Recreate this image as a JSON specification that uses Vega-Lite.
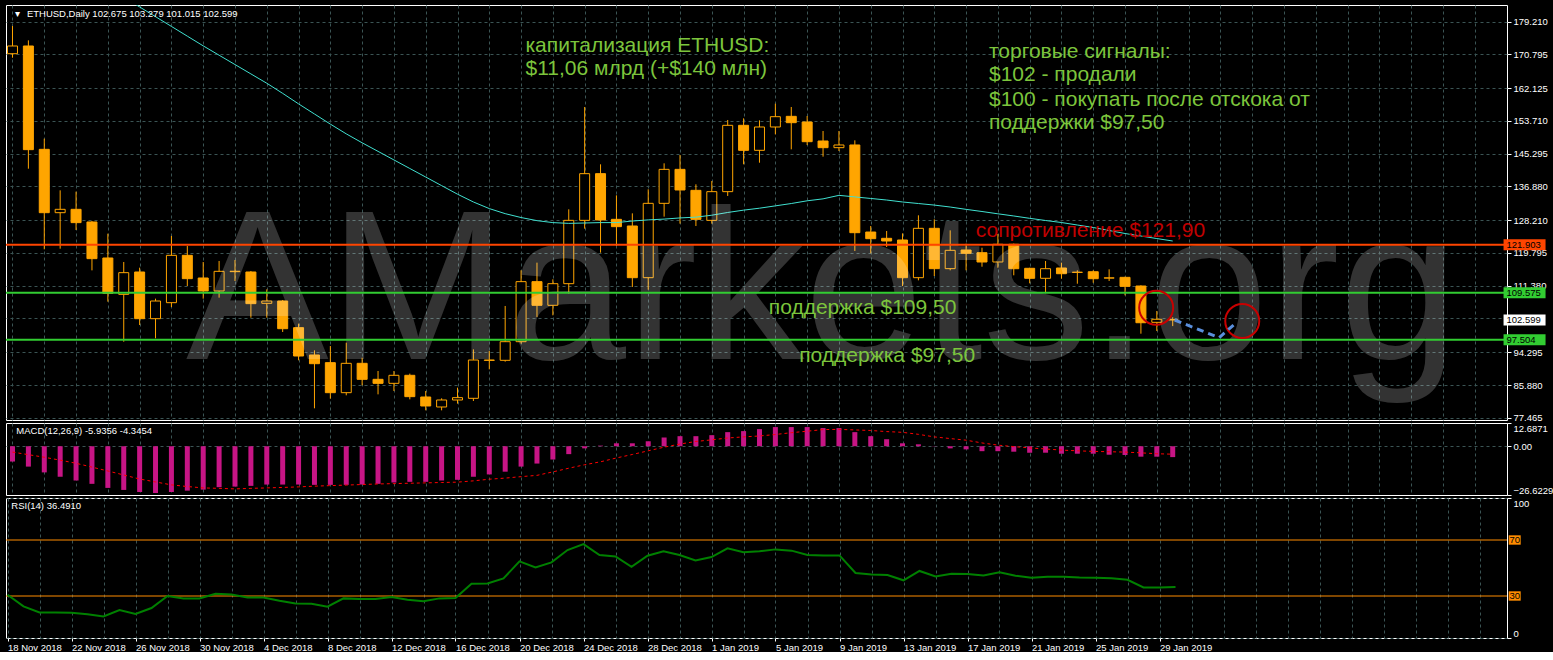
{
  "$schema": "https://vega.github.io/schema/vega-lite/v6.json",
  "background": "#000000",
  "padding": {"left": 4, "top": 4, "right": 0, "bottom": 0},
  "spacing": 3,
  "bounds": "flush",
  "resolve": {"scale": {"x": "independent", "y": "independent", "color": "independent"}},
  "config": {
    "view": {"stroke": "#ffffff", "strokeWidth": 1},
    "axis": {"gridColor": "#3b5454", "gridDash": [3, 3], "gridWidth": 1, "labelColor": "#ffffff", "labelFont": "Liberation Sans", "labelFontSize": 9.5, "tickColor": "#ffffff", "tickSize": 4, "domain": false, "labelFlush": false, "labelOverlap": false},
    "text": {"font": "Liberation Sans"}
  },
  "datasets": {
    "bars": [
      {"d":"2018-11-18","o":170.99,"h":178.1,"l":169.96,"c":172.97,"ma":203.0,"m":-8.35,"s":-3.2,"r":30.9},
      {"d":"2018-11-19","o":172.97,"h":174.42,"l":141.45,"c":146.34,"ma":200.5,"m":-11.12,"s":-4.6,"r":22.6},
      {"d":"2018-11-20","o":146.42,"h":149.16,"l":120.74,"c":130.15,"ma":198.0,"m":-14.28,"s":-6.0,"r":18.3},
      {"d":"2018-11-21","o":130.15,"h":135.89,"l":120.9,"c":131.01,"ma":195.5,"m":-16.66,"s":-7.6,"r":18.3},
      {"d":"2018-11-22","o":131.01,"h":135.55,"l":125.7,"c":127.59,"ma":193.0,"m":-18.71,"s":-9.3,"r":18.1},
      {"d":"2018-11-23","o":127.76,"h":128.01,"l":115.33,"c":118.34,"ma":190.5,"m":-20.53,"s":-11.4,"r":16.9},
      {"d":"2018-11-24","o":118.51,"h":124.76,"l":107.29,"c":109.43,"ma":188.0,"m":-22.75,"s":-13.5,"r":15.4},
      {"d":"2018-11-25","o":109.17,"h":117.48,"l":97.01,"c":114.74,"ma":185.5,"m":-23.86,"s":-15.7,"r":20.0},
      {"d":"2018-11-26","o":114.91,"h":116.02,"l":101.29,"c":102.92,"ma":183.0,"m":-24.97,"s":-17.9,"r":17.1},
      {"d":"2018-11-27","o":102.92,"h":108.06,"l":97.87,"c":107.46,"ma":180.5,"m":-25.52,"s":-19.5,"r":21.4},
      {"d":"2018-11-28","o":107.03,"h":124.16,"l":105.92,"c":119.19,"ma":178.0,"m":-24.97,"s":-21.1,"r":30.0},
      {"d":"2018-11-29","o":119.19,"h":121.59,"l":111.31,"c":113.2,"ma":175.5,"m":-24.25,"s":-22.0,"r":28.3},
      {"d":"2018-11-30","o":113.37,"h":117.48,"l":108.06,"c":110.03,"ma":173.0,"m":-23.69,"s":-22.75,"r":28.3},
      {"d":"2018-12-01","o":110.03,"h":117.74,"l":108.32,"c":115.08,"ma":170.6,"m":-22.36,"s":-23.0,"r":31.6},
      {"d":"2018-12-02","o":115.0,"h":118.0,"l":112.6,"c":115.1,"ma":168.2,"m":-22.03,"s":-23.3,"r":31.1},
      {"d":"2018-12-03","o":114.91,"h":115.17,"l":103.18,"c":106.78,"ma":165.8,"m":-21.64,"s":-23.0,"r":29.0},
      {"d":"2018-12-04","o":106.86,"h":110.46,"l":103.18,"c":107.46,"ma":163.4,"m":-20.92,"s":-22.75,"r":29.0},
      {"d":"2018-12-05","o":107.46,"h":107.72,"l":99.5,"c":100.35,"ma":160.8,"m":-20.92,"s":-22.5,"r":26.6},
      {"d":"2018-12-06","o":100.61,"h":101.64,"l":92.22,"c":93.33,"ma":158.1,"m":-20.92,"s":-22.2,"r":24.7},
      {"d":"2018-12-07","o":93.59,"h":94.79,"l":79.89,"c":91.36,"ma":155.5,"m":-21.09,"s":-21.8,"r":24.5},
      {"d":"2018-12-08","o":91.62,"h":95.9,"l":82.37,"c":83.91,"ma":152.9,"m":-21.09,"s":-21.5,"r":22.4},
      {"d":"2018-12-09","o":83.91,"h":96.75,"l":83.23,"c":91.45,"ma":150.4,"m":-21.09,"s":-21.2,"r":28.3},
      {"d":"2018-12-10","o":91.45,"h":92.9,"l":85.8,"c":87.34,"ma":148.1,"m":-20.92,"s":-20.9,"r":27.9},
      {"d":"2018-12-11","o":87.34,"h":89.48,"l":83.48,"c":86.31,"ma":145.9,"m":-20.53,"s":-20.6,"r":27.9},
      {"d":"2018-12-12","o":86.31,"h":89.48,"l":84.34,"c":88.37,"ma":143.7,"m":-19.81,"s":-20.4,"r":29.3},
      {"d":"2018-12-13","o":88.37,"h":88.8,"l":82.2,"c":82.89,"ma":141.5,"m":-19.43,"s":-20.2,"r":27.4},
      {"d":"2018-12-14","o":82.8,"h":84.34,"l":79.37,"c":80.49,"ma":139.3,"m":-19.43,"s":-20.0,"r":26.2},
      {"d":"2018-12-15","o":80.23,"h":82.46,"l":79.37,"c":82.03,"ma":137.1,"m":-18.71,"s":-19.8,"r":28.3},
      {"d":"2018-12-16","o":82.03,"h":85.2,"l":81.09,"c":82.63,"ma":134.9,"m":-18.32,"s":-19.6,"r":28.6},
      {"d":"2018-12-17","o":82.46,"h":95.04,"l":81.77,"c":92.3,"ma":132.9,"m":-16.66,"s":-18.9,"r":38.8},
      {"d":"2018-12-18","o":92.2,"h":94.62,"l":89.9,"c":92.3,"ma":131.2,"m":-15.39,"s":-18.0,"r":39.0},
      {"d":"2018-12-19","o":92.22,"h":106.18,"l":91.88,"c":97.01,"ma":129.9,"m":-13.89,"s":-17.4,"r":42.6},
      {"d":"2018-12-20","o":97.01,"h":115.34,"l":96.5,"c":112.43,"ma":128.9,"m":-11.12,"s":-16.6,"r":54.7},
      {"d":"2018-12-21","o":112.43,"h":117.31,"l":103.35,"c":106.35,"ma":128.1,"m":-9.46,"s":-15.9,"r":50.4},
      {"d":"2018-12-22","o":106.35,"h":113.03,"l":103.78,"c":111.91,"ma":127.6,"m":-7.25,"s":-14.0,"r":54.0},
      {"d":"2018-12-23","o":111.91,"h":131.01,"l":109.35,"c":128.18,"ma":127.4,"m":-4.31,"s":-12.0,"r":62.8},
      {"d":"2018-12-24","o":128.18,"h":157.3,"l":126.04,"c":140.17,"ma":127.5,"m":-1.16,"s":-10.1,"r":67.1},
      {"d":"2018-12-25","o":140.17,"h":142.57,"l":119.88,"c":128.27,"ma":127.6,"m":0.34,"s":-8.5,"r":59.3},
      {"d":"2018-12-26","o":128.44,"h":134.6,"l":121.59,"c":126.56,"ma":127.6,"m":1.61,"s":-6.4,"r":58.3},
      {"d":"2018-12-27","o":126.73,"h":129.98,"l":111.06,"c":113.45,"ma":128.0,"m":1.61,"s":-4.5,"r":50.9},
      {"d":"2018-12-28","o":113.45,"h":136.15,"l":110.37,"c":132.55,"ma":128.3,"m":2.72,"s":-2.5,"r":58.8},
      {"d":"2018-12-29","o":132.55,"h":142.83,"l":129.13,"c":141.28,"ma":128.5,"m":4.77,"s":-0.5,"r":61.9},
      {"d":"2018-12-30","o":141.28,"h":144.97,"l":127.33,"c":135.98,"ma":128.8,"m":5.49,"s":1.2,"r":59.3},
      {"d":"2018-12-31","o":135.89,"h":137.43,"l":126.73,"c":128.44,"ma":129.0,"m":5.49,"s":2.6,"r":55.4},
      {"d":"2019-01-01","o":128.18,"h":138.29,"l":127.33,"c":135.55,"ma":129.5,"m":6.04,"s":3.5,"r":57.8},
      {"d":"2019-01-02","o":135.55,"h":153.96,"l":134.44,"c":152.59,"ma":130.2,"m":7.7,"s":4.5,"r":64.0},
      {"d":"2019-01-03","o":152.59,"h":154.39,"l":142.57,"c":146.17,"ma":130.8,"m":8.26,"s":5.1,"r":61.2},
      {"d":"2019-01-04","o":146.17,"h":153.87,"l":142.99,"c":152.16,"ma":131.3,"m":9.36,"s":5.6,"r":61.9},
      {"d":"2019-01-05","o":152.16,"h":158.15,"l":150.28,"c":154.81,"ma":131.9,"m":10.47,"s":6.4,"r":63.3},
      {"d":"2019-01-06","o":154.9,"h":157.3,"l":146.42,"c":153.27,"ma":132.5,"m":10.47,"s":7.4,"r":62.4},
      {"d":"2019-01-07","o":153.44,"h":154.99,"l":147.54,"c":148.39,"ma":133.2,"m":10.47,"s":8.2,"r":59.3},
      {"d":"2019-01-08","o":148.56,"h":151.13,"l":144.54,"c":146.85,"ma":133.7,"m":9.92,"s":9.1,"r":59.0},
      {"d":"2019-01-09","o":146.85,"h":151.13,"l":145.99,"c":147.54,"ma":134.6,"m":9.92,"s":9.2,"r":59.0},
      {"d":"2019-01-10","o":147.54,"h":148.73,"l":120.31,"c":125.01,"ma":134.2,"m":7.7,"s":8.9,"r":46.4},
      {"d":"2019-01-11","o":125.18,"h":126.73,"l":119.71,"c":123.47,"ma":133.8,"m":5.49,"s":8.6,"r":45.4},
      {"d":"2019-01-12","o":123.56,"h":125.44,"l":121.33,"c":122.87,"ma":133.4,"m":3.83,"s":8.0,"r":45.0},
      {"d":"2019-01-13","o":123.13,"h":124.84,"l":111.31,"c":113.45,"ma":132.9,"m":1.61,"s":7.6,"r":41.2},
      {"d":"2019-01-14","o":113.45,"h":129.47,"l":112.77,"c":126.13,"ma":132.5,"m":1.06,"s":6.5,"r":47.9},
      {"d":"2019-01-15","o":126.13,"h":128.44,"l":113.88,"c":115.77,"ma":132.1,"m":0.12,"s":5.1,"r":44.0},
      {"d":"2019-01-16","o":115.77,"h":125.61,"l":115.34,"c":120.48,"ma":131.6,"m":-1.16,"s":4.2,"r":45.9},
      {"d":"2019-01-17","o":120.56,"h":122.19,"l":115.34,"c":119.71,"ma":131.0,"m":-1.71,"s":3.3,"r":45.7},
      {"d":"2019-01-18","o":119.87,"h":121.15,"l":116.27,"c":117.48,"ma":130.45,"m":-2.7,"s":1.8,"r":44.7},
      {"d":"2019-01-19","o":117.48,"h":124.67,"l":116.01,"c":122.03,"ma":129.86,"m":-2.7,"s":0.6,"r":47.0},
      {"d":"2019-01-20","o":122.03,"h":122.2,"l":114.06,"c":115.76,"ma":129.3,"m":-2.98,"s":-0.2,"r":44.5},
      {"d":"2019-01-21","o":115.86,"h":116.0,"l":112.0,"c":113.29,"ma":128.7,"m":-3.53,"s":-0.9,"r":43.1},
      {"d":"2019-01-22","o":113.29,"h":117.73,"l":109.44,"c":115.76,"ma":128.14,"m":-3.53,"s":-1.5,"r":43.8},
      {"d":"2019-01-23","o":115.94,"h":117.3,"l":113.19,"c":114.47,"ma":127.62,"m":-4.08,"s":-2.1,"r":43.8},
      {"d":"2019-01-24","o":114.8,"h":115.34,"l":111.9,"c":114.86,"ma":126.98,"m":-4.08,"s":-2.5,"r":43.3},
      {"d":"2019-01-25","o":114.98,"h":115.34,"l":112.16,"c":113.19,"ma":126.34,"m":-4.08,"s":-2.8,"r":43.1},
      {"d":"2019-01-26","o":113.35,"h":115.6,"l":112.6,"c":113.4,"ma":125.57,"m":-4.63,"s":-3.0,"r":42.6},
      {"d":"2019-01-27","o":113.54,"h":113.7,"l":108.92,"c":111.23,"ma":124.8,"m":-4.8,"s":-3.2,"r":41.6},
      {"d":"2019-01-28","o":111.31,"h":111.5,"l":99.06,"c":101.88,"ma":124.15,"m":-5.7,"s":-3.6,"r":36.1},
      {"d":"2019-01-29","o":101.98,"h":104.89,"l":99.75,"c":102.76,"ma":123.5,"m":-5.7,"s":-4.1,"r":36.1},
      {"d":"2019-01-30","o":102.675,"h":103.279,"l":101.015,"c":102.599,"ma":122.87,"m":-5.9356,"s":-4.3454,"r":36.491}
    ],
    "levels": [
      {"p": 121.903, "kind": "res"},
      {"p": 109.575, "kind": "sup"},
      {"p": 102.599, "kind": "bid"},
      {"p": 97.504, "kind": "sup"}
    ]
  },
  "vconcat": [
    {
      "width": 1501,
      "height": 415,
      "data": {"name": "bars"},
      "layer": [
        {
          "mark": {"type": "rule", "color": "#FFA500", "strokeWidth": 1, "clip": true},
          "encoding": {
            "x": {"field": "d", "type": "temporal", "scale": {"type": "utc", "domain": [1542491100000, 1550596500000]},
                  "axis": {"title": null, "grid": true, "labels": false, "ticks": false, "domain": false, "tickCount": 200,
                           "values": [1542499200000,1542672000000,1542844800000,1543017600000,1543190400000,1543363200000,1543536000000,1543708800000,1543881600000,1544054400000,1544227200000,1544400000000,1544572800000,1544745600000,1544918400000,1545091200000,1545264000000,1545436800000,1545609600000,1545782400000,1545955200000,1546128000000,1546300800000,1546473600000,1546646400000,1546819200000,1546992000000,1547164800000,1547337600000,1547510400000,1547683200000,1547856000000,1548028800000,1548201600000,1548374400000,1548547200000,1548720000000,1548892800000,1549065600000,1549238400000,1549411200000,1549584000000,1549756800000,1549929600000,1550102400000,1550275200000,1550448000000]}},
            "y": {"field": "l", "type": "quantitative", "scale": {"domain": [76.89, 183.5], "zero": false, "nice": false},
                  "axis": {"title": null, "orient": "right", "grid": true, "labelPadding": 2, "labelBaseline": "middle", "labelOverlap": false, "labelBound": false, "tickCount": 50,
                           "labelExpr": "abs(datum.value - 102.965) < 0.001 ? '' : format(datum.value, '.3f')",
                           "values": [179.21, 170.795, 162.125, 153.71, 145.295, 136.88, 128.21, 119.795, 111.38, 102.965, 94.295, 85.88, 77.465]}},
            "y2": {"field": "h"}
          }
        },
        {
          "mark": {"type": "bar", "size": 10, "stroke": "#FFA500", "strokeWidth": 1, "clip": true},
          "encoding": {
            "x": {"field": "d", "type": "temporal"},
            "y": {"field": "o", "type": "quantitative"},
            "y2": {"field": "c"},
            "fill": {"condition": {"test": "datum.c >= datum.o", "value": "#000000"}, "value": "#FFA500"}
          }
        },
        {
          "mark": {"type": "line", "color": "#40E0D0", "strokeWidth": 1, "clip": true},
          "encoding": {
            "x": {"field": "d", "type": "temporal"},
            "y": {"field": "ma", "type": "quantitative"}
          }
        },
        {
          "data": {"values": [{"d": "2018-11-28T22:05:00Z", "p": 92.56, "t": "AMarkets.org"}]},
          "mark": {"type": "text", "align": "left", "baseline": "alphabetic", "fontSize": 214, "color": "#ffffff", "opacity": 0.2, "font": "Liberation Sans"},
          "encoding": {
            "x": {"field": "d", "type": "temporal"},
            "y": {"field": "p", "type": "quantitative"},
            "text": {"field": "t"}
          }
        },
        {
          "data": {"name": "levels"},
          "transform": [{"filter": "datum.kind != 'bid'"}],
          "mark": {"type": "rule", "strokeWidth": 2},
          "encoding": {
            "y": {"field": "p", "type": "quantitative"},
            "color": {"field": "kind", "type": "nominal", "scale": {"domain": ["res", "sup", "bid"], "range": ["#FF4500", "#32CD32", "#FFFFFF"]}, "legend": null}
          }
        },
        {
          "data": {"values": [
            {"d": "2018-12-20T06:36:00Z", "p": 171.5, "t": "капитализация ETHUSD:"},
            {"d": "2018-12-20T06:36:00Z", "p": 165.52, "t": "$11,06 млрд (+$140 млн)"},
            {"d": "2019-01-18T10:33:00Z", "p": 169.96, "t": "торговые сигналы:"},
            {"d": "2019-01-18T10:33:00Z", "p": 163.97, "t": "$102 - продали"},
            {"d": "2019-01-18T10:33:00Z", "p": 157.55, "t": "$100 - покупать после отскока от"},
            {"d": "2019-01-18T10:33:00Z", "p": 151.72, "t": "поддержки $97,50"},
            {"d": "2019-01-04T14:06:00Z", "p": 104.04, "t": "поддержка $109,50"},
            {"d": "2019-01-06T12:00:00Z", "p": 91.86, "t": "поддержка $97,50"}
          ]},
          "mark": {"type": "text", "align": "left", "baseline": "alphabetic", "fontSize": 21, "color": "#7CC53C"},
          "encoding": {
            "x": {"field": "d", "type": "temporal"},
            "y": {"field": "p", "type": "quantitative"},
            "text": {"field": "t"}
          }
        },
        {
          "data": {"values": [{"d": "2019-01-17T14:33:00Z", "p": 123.98, "t": "сопротивление $121,90"}]},
          "mark": {"type": "text", "align": "left", "baseline": "alphabetic", "fontSize": 21, "color": "#C00000"},
          "encoding": {
            "x": {"field": "d", "type": "temporal"},
            "y": {"field": "p", "type": "quantitative"},
            "text": {"field": "t"}
          }
        },
        {
          "data": {"values": [
            {"d": "2018-11-18T03:45:00Z", "p": 180.42, "t": "▾"},
            {"d": "2018-11-18T21:45:00Z", "p": 180.42, "t": "ETHUSD,Daily  102.675 103.279 101.015 102.599"}
          ]},
          "mark": {"type": "text", "align": "left", "baseline": "alphabetic", "fontSize": 9.5, "color": "#ffffff"},
          "encoding": {
            "x": {"field": "d", "type": "temporal"},
            "y": {"field": "p", "type": "quantitative"},
            "text": {"field": "t"}
          }
        },
        {
          "data": {"values": [{"d": "2019-01-28T23:03:00Z", "p": 105.74}, {"d": "2019-02-03T09:00:00Z", "p": 102.32}]},
          "mark": {"type": "point", "shape": "circle", "size": 1156, "filled": false, "color": "#C80000", "strokeWidth": 2, "opacity": 1},
          "encoding": {
            "x": {"field": "d", "type": "temporal"},
            "y": {"field": "p", "type": "quantitative"}
          }
        },
        {
          "data": {"values": [{"d": "2019-01-30T03:00:00Z", "p": 102.58}, {"d": "2019-02-01T22:04:00Z", "p": 98.03}, {"d": "2019-02-03T01:26:00Z", "p": 102.14}]},
          "mark": {"type": "line", "color": "#5A8FDC", "strokeWidth": 3, "strokeDash": [7, 5]},
          "encoding": {
            "x": {"field": "d", "type": "temporal"},
            "y": {"field": "p", "type": "quantitative"}
          }
        },
        {
          "data": {"name": "levels"},
          "mark": {"type": "point", "shape": "M-1,-0.26L1,-0.26L1,0.26L-1,0.26Z", "size": 1764, "filled": true, "opacity": 1, "strokeWidth": 0},
          "encoding": {
            "x": {"datum": {"year": 2019, "month": 2, "date": 21, "hours": 3, "minutes": 18, "utc": true}, "type": "temporal"},
            "y": {"field": "p", "type": "quantitative"},
            "color": {"field": "kind", "type": "nominal", "legend": null}
          }
        },
        {
          "data": {"name": "levels"},
          "mark": {"type": "text", "align": "left", "baseline": "middle", "fontSize": 9.5, "color": "#000000"},
          "encoding": {
            "x": {"datum": {"year": 2019, "month": 2, "date": 20, "hours": 0, "minutes": 0, "utc": true}, "type": "temporal"},
            "y": {"field": "p", "type": "quantitative"},
            "text": {"field": "p", "type": "quantitative", "format": ".3f"}
          }
        }
      ]
    },
    {
      "width": 1501,
      "height": 72,
      "data": {"name": "bars"},
      "layer": [
        {
          "mark": {"type": "bar", "size": 5, "color": "#C71585", "clip": true},
          "encoding": {
            "x": {"field": "d", "type": "temporal", "scale": {"type": "utc", "domain": [1542491100000, 1550596500000]},
                  "axis": {"title": null, "grid": true, "labels": false, "ticks": false, "domain": false, "tickCount": 200,
                           "values": [1542499200000,1542672000000,1542844800000,1543017600000,1543190400000,1543363200000,1543536000000,1543708800000,1543881600000,1544054400000,1544227200000,1544400000000,1544572800000,1544745600000,1544918400000,1545091200000,1545264000000,1545436800000,1545609600000,1545782400000,1545955200000,1546128000000,1546300800000,1546473600000,1546646400000,1546819200000,1546992000000,1547164800000,1547337600000,1547510400000,1547683200000,1547856000000,1548028800000,1548201600000,1548374400000,1548547200000,1548720000000,1548892800000,1549065600000,1549238400000,1549411200000,1549584000000,1549756800000,1549929600000,1550102400000,1550275200000,1550448000000]}},
            "y": {"field": "m", "type": "quantitative", "scale": {"domain": [-26.6229, 12.6871], "zero": false, "nice": false},
                  "axis": {"title": null, "orient": "right", "grid": true, "labelPadding": 2, "labelOverlap": false, "labelBound": false, "tickCount": 20,
                           "values": [12.6871, 0, -26.6229],
                           "labelExpr": "datum.value == 0 ? '0.00' : format(datum.value, '.4f')",
                           "labelBaseline": {"condition": [{"test": "datum.value > 12", "value": "top"}, {"test": "datum.value < -26", "value": "bottom"}], "value": "middle"},
                           "gridOpacity": {"condition": {"test": "datum.value == 0", "value": 1}, "value": 0}}},
            "y2": {"datum": 0}
          }
        },
        {
          "mark": {"type": "line", "color": "#FF0000", "strokeWidth": 1, "strokeDash": [3, 3], "clip": true},
          "encoding": {
            "x": {"field": "d", "type": "temporal"},
            "y": {"field": "s", "type": "quantitative"}
          }
        },
        {
          "data": {"values": [{"d": "2018-11-18T05:42:00Z", "p": 6.52, "t": "MACD(12,26,9) -5.9356 -4.3454"}]},
          "mark": {"type": "text", "align": "left", "baseline": "alphabetic", "fontSize": 9.5, "color": "#ffffff"},
          "encoding": {
            "x": {"field": "d", "type": "temporal"},
            "y": {"field": "p", "type": "quantitative"},
            "text": {"field": "t"}
          }
        }
      ]
    },
    {
      "width": 1501,
      "height": 140,
      "data": {"name": "bars"},
      "layer": [
        {
          "data": {"values": [{"v": 70}, {"v": 30}]},
          "mark": {"type": "rule", "color": "#FF8C00", "strokeWidth": 1},
          "encoding": {
            "y": {"field": "v", "type": "quantitative", "scale": {"domain": [0, 100], "nice": false},
                  "axis": {"title": null, "orient": "right", "grid": true, "labelPadding": 2, "values": [100, 0], "labelOverlap": false, "labelBound": false, "tickCount": 20,
                           "labelBaseline": {"condition": {"test": "datum.value > 50", "value": "top"}, "value": "bottom"}}}
          }
        },
        {
          "mark": {"type": "line", "color": "#008000", "strokeWidth": 2, "clip": true},
          "encoding": {
            "x": {"field": "d", "type": "temporal", "scale": {"type": "utc", "domain": [1542491100000, 1550596500000]},
                  "axis": {"title": null, "grid": true, "domain": false, "tickSize": 3, "labelAlign": "left", "labelBaseline": "top", "labelPadding": 1, "labelBound": false, "tickCount": 200,
                           "labelExpr": "(datum.value <= 1548720000000 && round((datum.value - 1542499200000) / 86400000) % 4 == 0) ? utcFormat(datum.value, '%-d %b %Y') : ''",
                           "tickColor": {"condition": {"test": "datum.value <= 1548720000000 && round((datum.value - 1542499200000) / 86400000) % 4 == 0", "value": "#ffffff"}, "value": "transparent"},
                           "values": [1542499200000,1542672000000,1542844800000,1543017600000,1543190400000,1543363200000,1543536000000,1543708800000,1543881600000,1544054400000,1544227200000,1544400000000,1544572800000,1544745600000,1544918400000,1545091200000,1545264000000,1545436800000,1545609600000,1545782400000,1545955200000,1546128000000,1546300800000,1546473600000,1546646400000,1546819200000,1546992000000,1547164800000,1547337600000,1547510400000,1547683200000,1547856000000,1548028800000,1548201600000,1548374400000,1548547200000,1548720000000,1548892800000,1549065600000,1549238400000,1549411200000,1549584000000,1549756800000,1549929600000,1550102400000,1550275200000,1550448000000]}},
            "y": {"field": "r", "type": "quantitative"}
          }
        },
        {
          "data": {"values": [{"v": 70}, {"v": 30}]},
          "mark": {"type": "point", "shape": "M-1,-0.78L1,-0.78L1,0.78L-1,0.78Z", "size": 144, "filled": true, "color": "#FF8C00", "opacity": 1, "strokeWidth": 0},
          "encoding": {
            "x": {"datum": {"year": 2019, "month": 2, "date": 20, "hours": 4, "minutes": 48, "utc": true}, "type": "temporal"},
            "y": {"field": "v", "type": "quantitative"}
          }
        },
        {
          "data": {"values": [{"v": 70}, {"v": 30}]},
          "mark": {"type": "text", "align": "left", "baseline": "middle", "fontSize": 9.5, "color": "#000000"},
          "encoding": {
            "x": {"datum": {"year": 2019, "month": 2, "date": 19, "hours": 21, "minutes": 0, "utc": true}, "type": "temporal"},
            "y": {"field": "v", "type": "quantitative"},
            "text": {"field": "v", "type": "quantitative"}
          }
        },
        {
          "data": {"values": [{"d": "2018-11-18T05:42:00Z", "p": 91.9, "t": "RSI(14) 36.4910"}]},
          "mark": {"type": "text", "align": "left", "baseline": "alphabetic", "fontSize": 9.5, "color": "#ffffff"},
          "encoding": {
            "x": {"field": "d", "type": "temporal"},
            "y": {"field": "p", "type": "quantitative"},
            "text": {"field": "t"}
          }
        }
      ]
    }
  ]
}
